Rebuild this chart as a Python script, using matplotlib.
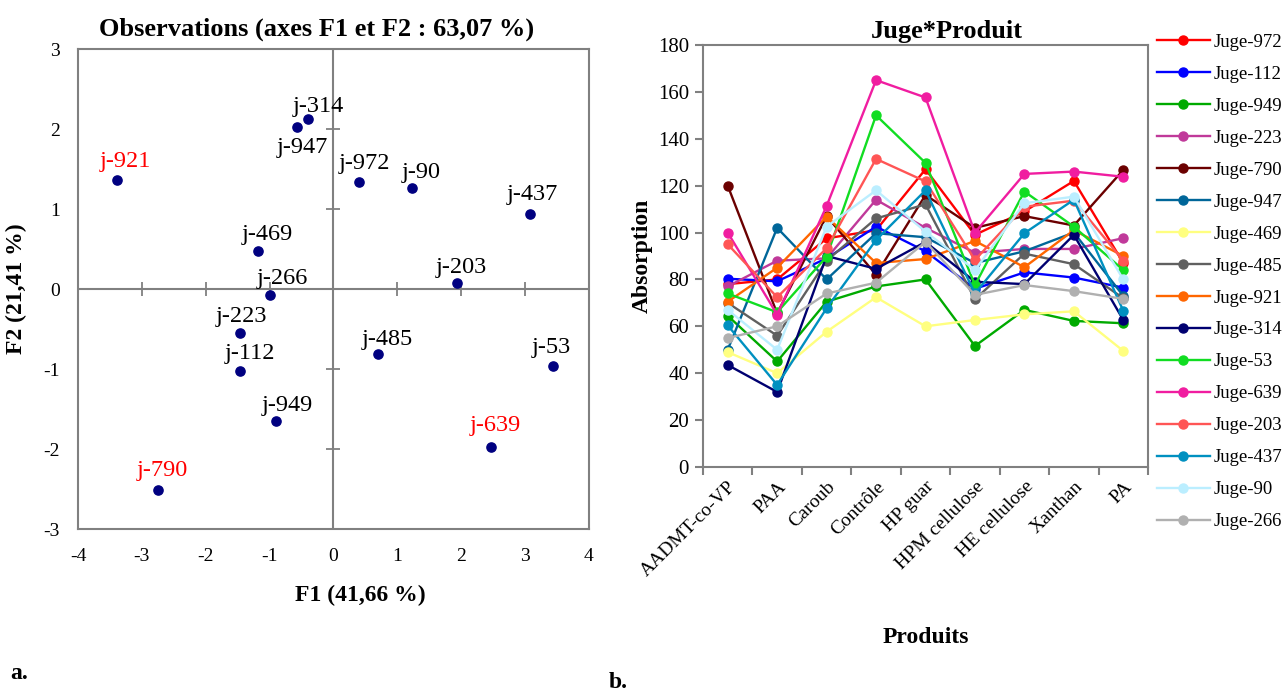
import numpy as np
import matplotlib
matplotlib.use("Agg")
import matplotlib.pyplot as plt

plt.rcParams['font.family'] = ['Liberation Serif', 'DejaVu Serif']

# --- a. ACP : observations sur F1 / F2 ---
obs_labels = ["j-921", "j-314", "j-947", "j-972", "j-90", "j-437", "j-469", "j-203",
              "j-266", "j-223", "j-112", "j-485", "j-53", "j-949", "j-639", "j-790"]
f1 = [-3.39, -0.40, -0.57, 0.40, 1.23, 3.08, -1.18, 1.93,
      -0.99, -1.47, -1.46, 0.69, 3.43, -0.90, 2.46, -2.75]
f2 = [1.36, 2.13, 2.02, 1.34, 1.26, 0.94, 0.48, 0.07,
      -0.08, -0.55, -1.02, -0.81, -0.96, -1.65, -1.97, -2.51]
red_labels = ["j-921", "j-790", "j-639"]

# décalage des étiquettes (pixels)
label_offsets = {
    "j-921": (8, 19), "j-314": (10, 12), "j-947": (5, -20), "j-972": (5, 18),
    "j-90": (9, 16), "j-437": (2, 19), "j-469": (9, 16), "j-203": (5, 16),
    "j-266": (12, 17), "j-223": (2, 17), "j-112": (10, 17), "j-485": (10, 14),
    "j-53": (-1, 18), "j-949": (11, 16), "j-639": (5, 21), "j-790": (5, 19),
}

# --- b. Juge*Produit ---
produits = ["AADMT-co-VP", "PAA", "Caroub", "Contrôle", "HP guar",
            "HPM cellulose", "HE cellulose", "Xanthan", "PA"]
juges = ["Juge-972", "Juge-112", "Juge-949", "Juge-223", "Juge-790", "Juge-947",
         "Juge-469", "Juge-485", "Juge-921", "Juge-314", "Juge-53", "Juge-639",
         "Juge-203", "Juge-437", "Juge-90", "Juge-266"]
juge_972 = [78, 80, 97.5, 101, 127, 99, 109, 122, 87]
juge_112 = [80.3, 79.2, 89, 102.5, 92, 76, 83, 80.8, 76.5]
juge_949 = [64.5, 45, 70.5, 77, 80, 51.6, 67, 62.3, 61.3]
juge_223 = [77, 88, 89, 114, 102, 91.4, 93, 93, 97.6]
juge_790 = [120, 65.5, 107, 82, 116, 102, 107, 103, 126.7]
juge_947 = [50, 102, 80, 99.7, 98, 87, 92, 100, 73]
juge_469 = [49, 40, 57.7, 72.4, 60, 62.7, 65.1, 66.4, 49.5]
juge_485 = [70, 56, 88, 106, 112, 71.5, 91, 86.5, 72]
juge_921 = [70.5, 85, 106.8, 87, 88.7, 96.4, 85.2, 101, 90]
juge_314 = [43.5, 32, 90, 84.5, 96, 79, 78, 99, 62.7]
juge_53 = [74, 66, 89.7, 150, 129.7, 77.6, 117.5, 102.5, 84]
juge_639 = [100, 65, 111.3, 165, 157.6, 100, 125, 126, 123.8]
juge_203 = [95, 72.4, 93.3, 131.4, 121.8, 88.3, 111, 113.6, 88]
juge_437 = [60.4, 35, 67.7, 96.8, 118, 74, 99.7, 114, 66.6]
juge_90 = [67, 50, 102.5, 118, 100.4, 84, 112.5, 115.3, 80]
juge_266 = [55, 60, 74, 78.6, 96, 73.4, 77.6, 75, 71.7]
series = [juge_972, juge_112, juge_949, juge_223, juge_790, juge_947, juge_469, juge_485,
          juge_921, juge_314, juge_53, juge_639, juge_203, juge_437, juge_90, juge_266]
couleurs = ["#FF0000", "#0000FF", "#00AA00", "#C0399A", "#6B0000", "#006699",
            "#FFFF80", "#606060", "#FF6600", "#000070", "#11DD22", "#F01DA0",
            "#FF5555", "#0090C0", "#BBEEFF", "#B0B0B0"]

GRIS = "#808080"

fig = plt.figure(figsize=(12.84, 6.91), dpi=100)

# ================= a. =================
ax1 = fig.add_axes([0.0607, 0.2344, 0.398, 0.6946])
ax1.scatter(f1, f2, s=44, color="#000080", zorder=3)
for lab, x, y in zip(obs_labels, f1, f2):
    dx, dy = label_offsets[lab]
    ax1.annotate(lab, (x, y), xytext=(dx, dy), textcoords="offset pixels",
                 ha="center", va="center", fontsize=17.5,
                 color="red" if lab in red_labels else "black", zorder=4)

xt = np.arange(-4, 5)
yt = np.arange(-3, 4)
ax1.set_xlim(-4, 4)
ax1.set_ylim(-3, 3)
ax1.set_xticks(xt)
ax1.set_yticks(yt)
ax1.set_xticklabels([str(v) for v in xt])
ax1.set_yticklabels([str(v) for v in yt])
ax1.tick_params(axis="x", length=0, labelsize=14, pad=14)
ax1.tick_params(axis="y", length=0, labelsize=14, pad=13)
ax1.axhline(0, color=GRIS, lw=1.5, zorder=1)
ax1.axvline(0, color=GRIS, lw=1.5, zorder=1)
# petites graduations sur les axes centraux
ax1.plot(xt[(xt != 0)], np.zeros(len(xt) - 1), ls="none", marker="|", ms=10,
         color=GRIS, mew=1.3, clip_on=False, zorder=1)
ax1.plot(np.zeros(len(yt) - 1), yt[(yt != 0)], ls="none", marker="_", ms=10,
         color=GRIS, mew=1.3, clip_on=False, zorder=1)
for s in ax1.spines.values():
    s.set_color(GRIS)
    s.set_linewidth(1.5)
ax1.set_title("Observations (axes F1 et F2 : 63,07 %)", fontsize=19,
              fontweight="bold", pad=10, x=0.467)
ax1.set_xlabel("F1 (41,66 %)", fontsize=17, fontweight="bold", labelpad=14, x=0.553)
ax1.set_ylabel("F2 (21,41 %)", fontsize=17, fontweight="bold", labelpad=12)

# ================= b. =================
ax2 = fig.add_axes([0.5475, 0.3242, 0.3466, 0.6107])
xpos = np.arange(len(produits))
for nom, vals, c in zip(juges, series, couleurs):
    ax2.plot(xpos, vals, color=c, lw=1.7, marker="o", ms=6.5, label=nom)

ax2.set_xlim(-0.5, len(produits) - 0.5)
ax2.set_ylim(0, 180)
ax2.set_yticks(np.arange(0, 181, 20))
ax2.set_xticks(np.arange(-0.5, len(produits), 1.0))
ax2.set_xticklabels([])
ax2.set_xticks(xpos, minor=True)
ax2.set_xticklabels(produits, minor=True, rotation=45, ha="right",
                    rotation_mode="anchor", fontsize=14)
ax2.tick_params(axis="x", which="minor", length=0, pad=8)
ax2.tick_params(axis="x", which="major", direction="out", length=6, color=GRIS, width=1.5)
ax2.tick_params(axis="y", direction="out", length=6, color=GRIS, width=1.5,
                labelsize=15, pad=4)
for s in ax2.spines.values():
    s.set_color(GRIS)
    s.set_linewidth(1.5)
ax2.set_title("Juge*Produit", fontsize=19, fontweight="bold", pad=5, x=0.548)
ax2.set_ylabel("Absorption", fontsize=17, fontweight="bold", labelpad=4)
ax2.set_xlabel("Produits", fontsize=17, fontweight="bold", labelpad=34)

ax2.legend(loc="upper left", bbox_to_anchor=(1.003, 1.044), frameon=False,
           fontsize=13.5, handlelength=2.83, handletextpad=0.2, labelspacing=0.79,
           borderaxespad=0, numpoints=1)

fig.text(0.008, 0.018, "a.", fontsize=17, fontweight="bold")
fig.text(0.474, 0.005, "b.", fontsize=17, fontweight="bold")

fig.savefig("out.png", dpi=100)
